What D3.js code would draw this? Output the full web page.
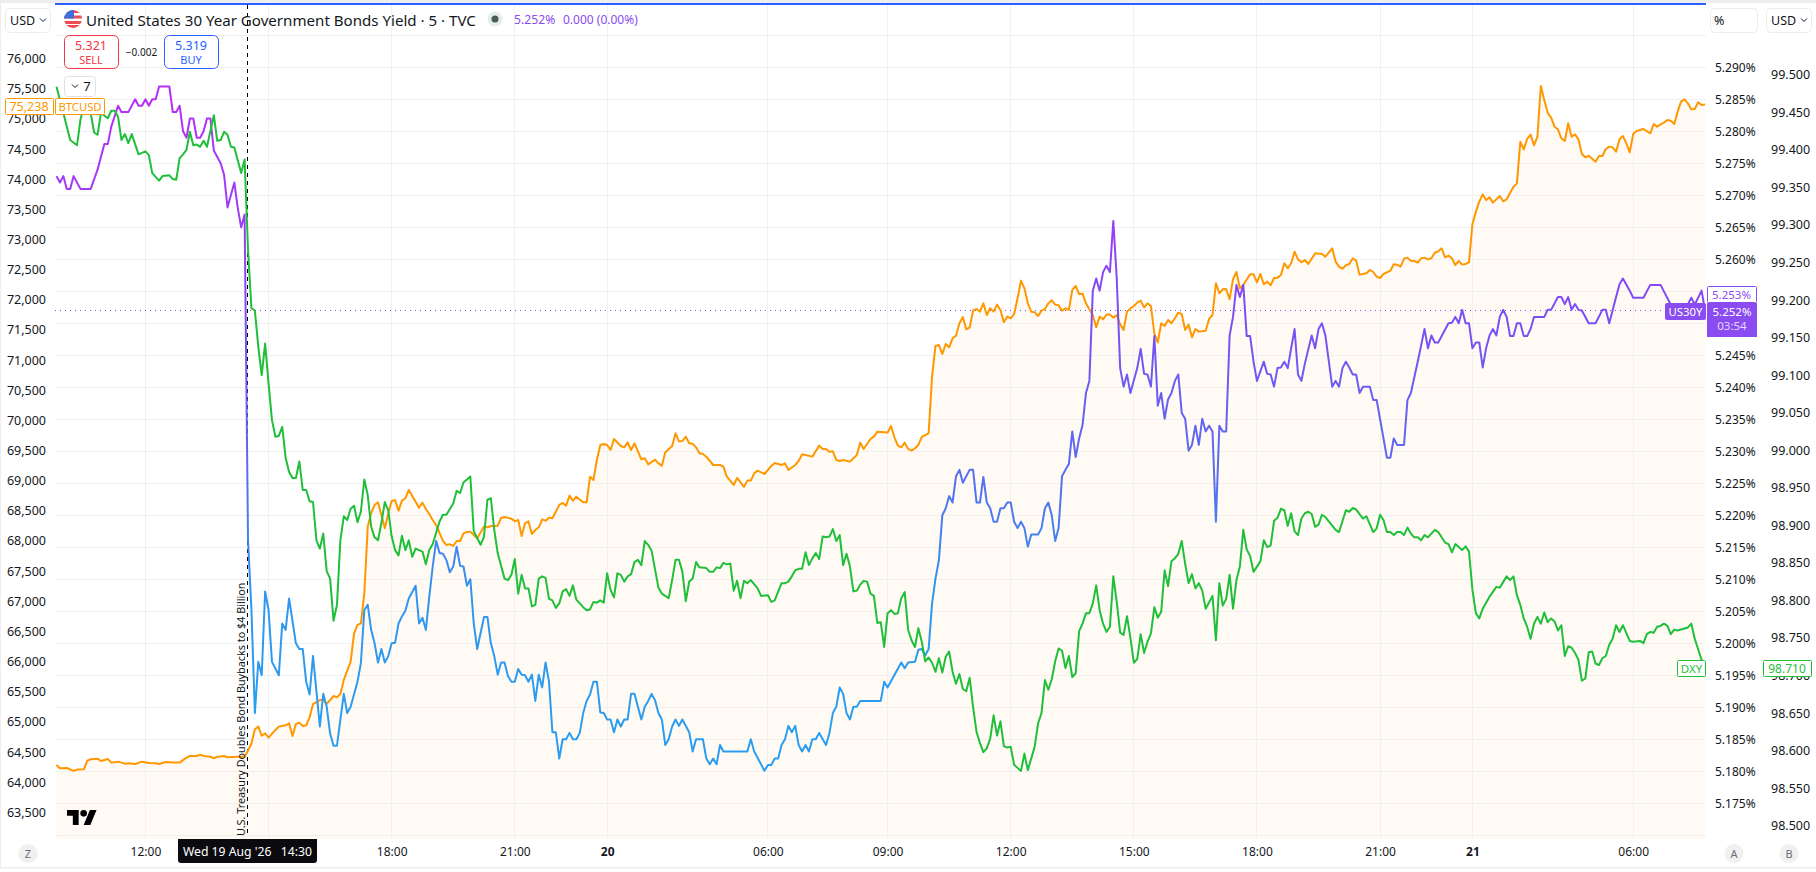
<!DOCTYPE html>
<html>
<head>
<meta charset="utf-8">
<title>US30Y</title>
<script src="https://cdn.jsdelivr.net/npm/d3@7"></script>
<style>
  html, body { margin: 0; padding: 0; background: #fff; overflow: hidden; }
  svg { display: block; }
  text { font-family: "Noto Sans", "Open Sans", sans-serif; fill: #131722; }
  .axis text { font-size: 12.5px; }
  .axis .domain, .axis line { display: none; }
</style>
</head>
<body>
<div id="chart"></div>
<script>
// [bar index, value], bars are 5 minute steps counted from the left edge
var btcPoints = [[0,64285],[1,64230],[3,64235],[5,64186],[6,64208],[8,64213],[9,64357],[10,64379],[12,64390],[13,64351],[15,64385],[16,64324],[18,64340],[20,64307],[21,64313],[23,64302],[25,64340],[27,64318],[29,64313],[30,64302],[32,64335],[34,64324],[36,64324],[38,64407],[39,64434],[41,64434],[42,64456],[43,64434],[45,64423],[46,64396],[47,64423],[49,64434],[50,64412],[53,64423],[55,64423],[56,64523],[57,64645],[58,64877],[59,64921],[60,64772],[61,64810],[62,64738],[64,64866],[65,64921],[67,64943],[68,64976],[69,64766],[70,64965],[71,64987],[72,64932],[73,64943],[74,65076],[75,65297],[76,65325],[77,65363],[78,65363],[79,65297],[81,65429],[82,65407],[83,65463],[84,65695],[86,65999],[87,66469],[88,66607],[89,66634],[90,67132],[91,68238],[92,68459],[93,68597],[94,68641],[95,68431],[96,68210],[97,68459],[98,68663],[99,68680],[100,68503],[101,68669],[102,68708],[103,68846],[106,68553],[107,68636],[108,68531],[109,68448],[110,68348],[111,68265],[113,68000],[114,67934],[115,67945],[116,67917],[117,68000],[118,68000],[119,68127],[120,68149],[121,68155],[123,68044],[125,68238],[126,68227],[127,68249],[129,68254],[130,68381],[131,68398],[133,68370],[134,68326],[135,68348],[136,68083],[137,68293],[138,68326],[139,68116],[140,68182],[141,68227],[142,68359],[143,68337],[144,68387],[145,68376],[147,68597],[148,68630],[149,68586],[150,68752],[151,68669],[152,68735],[154,68641],[155,68641],[156,69067],[157,69012],[158,69343],[159,69592],[160,69609],[161,69592],[162,69509],[163,69692],[165,69575],[166,69553],[167,69636],[168,69509],[169,69620],[171,69354],[172,69371],[173,69271],[175,69349],[176,69288],[177,69249],[178,69470],[180,69575],[181,69785],[182,69653],[183,69658],[184,69730],[185,69620],[186,69614],[187,69553],[188,69454],[189,69443],[190,69398],[192,69260],[194,69260],[195,69233],[196,69067],[198,68929],[199,69045],[201,68896],[202,69001],[203,69001],[204,69122],[205,69166],[207,69111],[209,69244],[210,69293],[212,69260],[213,69288],[214,69177],[216,69260],[217,69327],[218,69437],[221,69399],[223,69581],[224,69526],[225,69526],[226,69481],[227,69487],[228,69343],[229,69327],[230,69343],[232,69316],[234,69426],[235,69631],[236,69526],[238,69692],[239,69730],[240,69813],[243,69797],[244,69907],[245,69719],[246,69581],[247,69553],[248,69631],[249,69526],[250,69498],[251,69537],[252,69592],[253,69725],[255,69786],[256,70725],[257,71234],[258,71251],[259,71101],[260,71267],[261,71212],[262,71361],[263,71405],[264,71610],[265,71715],[266,71510],[267,71544],[268,71820],[269,71848],[270,71803],[271,71942],[272,71748],[273,71859],[274,71803],[275,71920],[276,71831],[277,71627],[278,71721],[279,71693],[280,71765],[281,72025],[282,72318],[283,72190],[284,71942],[285,71803],[286,71792],[287,71732],[288,71820],[289,71848],[290,71942],[291,71991],[292,71920],[293,71909],[294,71820],[295,71859],[296,71831],[297,72163],[298,72229],[299,72096],[300,72102],[301,71942],[302,71842],[303,71748],[304,71544],[305,71721],[306,71676],[307,71754],[308,71754],[309,71704],[310,71748],[311,71593],[312,71499],[313,71803],[314,71859],[315,71897],[316,71953],[317,71986],[318,71875],[319,71942],[320,71897],[321,71444],[322,71295],[323,71610],[324,71566],[325,71665],[326,71610],[327,71693],[328,71787],[329,71765],[330,71499],[331,71588],[332,71378],[333,71516],[334,71472],[336,71488],[337,71682],[338,71748],[339,72273],[340,72108],[341,72174],[342,72179],[343,72008],[344,72340],[345,72461],[346,72190],[347,72246],[349,72423],[350,72423],[351,72290],[352,72428],[353,72257],[354,72301],[355,72240],[356,72362],[357,72367],[358,72412],[359,72605],[360,72522],[361,72605],[362,72798],[363,72671],[364,72621],[365,72660],[366,72594],[368,72770],[370,72759],[371,72715],[373,72853],[374,72632],[375,72549],[376,72516],[377,72572],[378,72594],[379,72688],[380,72649],[381,72417],[383,72439],[384,72494],[385,72461],[386,72384],[387,72361],[388,72428],[390,72483],[391,72588],[392,72583],[393,72550],[394,72682],[395,72699],[396,72649],[397,72643],[398,72616],[399,72688],[400,72699],[401,72671],[402,72688],[403,72782],[404,72804],[405,72853],[406,72704],[407,72732],[408,72688],[409,72577],[410,72643],[411,72583],[412,72594],[413,72621],[414,73257],[415,73462],[416,73627],[417,73749],[418,73655],[419,73699],[420,73611],[422,73721],[423,73633],[424,73666],[426,73876],[427,73931],[428,74622],[429,74495],[430,74667],[431,74739],[432,74562],[433,74705],[434,75546],[435,75313],[436,75103],[437,75020],[438,74871],[439,74827],[440,74678],[441,74634],[442,74927],[443,74705],[444,74744],[445,74661],[446,74418],[447,74363],[448,74390],[450,74291],[451,74385],[452,74385],[453,74501],[454,74540],[455,74528],[456,74457],[457,74661],[458,74716],[459,74595],[460,74446],[461,74750],[462,74799],[464,74832],[466,74761],[467,74915],[468,74871],[469,74910],[470,74938],[471,74982],[472,74971],[473,74915],[474,75120],[475,75286],[476,75325],[477,75258],[478,75159],[479,75164],[480,75275],[481,75231],[482,75238]];

var yieldPoints = [[0,5.2730],[1,5.2720],[2,5.2730],[3,5.2710],[4,5.2710],[5,5.2730],[7,5.2710],[10,5.2710],[12,5.2740],[14,5.2780],[15,5.2780],[16,5.2807],[18,5.2840],[19,5.2830],[21,5.2830],[23,5.2850],[24,5.2840],[25,5.2840],[26,5.2850],[27,5.2840],[28,5.2850],[29,5.2850],[30,5.2870],[33,5.2870],[34,5.2830],[35,5.2830],[36,5.2840],[37,5.2800],[38,5.2790],[39,5.2820],[40,5.2820],[41,5.2790],[42,5.2790],[43,5.2800],[44,5.2820],[45,5.2820],[46,5.2770],[48,5.2750],[49,5.2732],[50,5.2681],[52,5.2720],[53,5.2680],[54,5.2650],[55,5.2670],[56,5.2161],[57,5.2052],[58,5.1891],[59,5.1971],[60,5.1950],[61,5.2081],[62,5.2052],[63,5.1971],[65,5.1950],[66,5.2031],[67,5.2021],[68,5.2070],[70,5.2000],[71,5.1991],[72,5.1991],[73,5.1940],[74,5.1920],[75,5.1980],[77,5.1870],[78,5.1921],[79,5.1901],[80,5.1859],[81,5.1840],[82,5.1840],[84,5.1921],[85,5.1891],[86,5.1901],[88,5.1940],[89,5.1969],[90,5.2052],[91,5.2060],[92,5.2021],[93,5.2000],[94,5.1970],[95,5.1991],[96,5.1970],[97,5.1980],[98,5.2000],[99,5.2001],[100,5.2031],[101,5.2042],[102,5.2051],[103,5.2070],[105,5.2090],[106,5.2031],[107,5.2040],[108,5.2021],[109,5.2073],[110,5.2120],[111,5.2160],[112,5.2141],[113,5.2140],[114,5.2130],[115,5.2111],[116,5.2120],[117,5.2151],[118,5.2121],[119,5.2120],[120,5.2090],[121,5.2100],[122,5.2031],[123,5.1991],[125,5.2041],[126,5.2041],[127,5.2000],[128,5.1980],[129,5.1951],[130,5.1970],[131,5.1970],[132,5.1949],[133,5.1940],[134,5.1940],[135,5.1960],[136,5.1951],[137,5.1950],[138,5.1940],[139,5.1951],[140,5.1910],[141,5.1951],[142,5.1931],[143,5.1970],[144,5.1940],[145,5.1861],[146,5.1861],[147,5.1820],[148,5.1850],[149,5.1850],[150,5.1860],[151,5.1850],[152,5.1850],[153,5.1860],[154,5.1891],[155,5.1910],[156,5.1920],[157,5.1940],[158,5.1940],[159,5.1892],[160,5.1891],[161,5.1881],[162,5.1881],[163,5.1861],[164,5.1881],[165,5.1870],[166,5.1881],[167,5.1881],[168,5.1921],[169,5.1921],[170,5.1901],[171,5.1881],[172,5.1901],[173,5.1910],[174,5.1921],[175,5.1911],[176,5.1891],[177,5.1881],[178,5.1841],[179,5.1850],[180,5.1870],[181,5.1881],[182,5.1871],[183,5.1881],[185,5.1861],[186,5.1831],[187,5.1850],[189,5.1850],[190,5.1820],[191,5.1811],[192,5.1820],[193,5.1811],[194,5.1841],[195,5.1831],[202,5.1831],[203,5.1850],[204,5.1831],[207,5.1801],[208,5.1810],[209,5.1810],[210,5.1820],[211,5.1820],[212,5.1841],[213,5.1850],[214,5.1871],[215,5.1861],[216,5.1871],[217,5.1841],[218,5.1831],[219,5.1841],[220,5.1831],[221,5.1850],[222,5.1850],[223,5.1860],[225,5.1841],[226,5.1860],[227,5.1891],[228,5.1901],[229,5.1931],[230,5.1921],[231,5.1891],[232,5.1881],[233,5.1901],[234,5.1901],[235,5.1910],[241,5.1910],[242,5.1940],[243,5.1931],[247,5.1970],[248,5.1961],[249,5.1970],[251,5.1971],[252,5.1990],[253,5.1991],[254,5.1981],[255,5.1991],[256,5.2062],[257,5.2101],[258,5.2130],[259,5.2200],[260,5.2211],[261,5.2230],[262,5.2220],[263,5.2261],[264,5.2271],[265,5.2251],[266,5.2261],[267,5.2271],[268,5.2271],[269,5.2220],[270,5.2220],[271,5.2260],[272,5.2220],[273,5.2211],[274,5.2190],[275,5.2190],[276,5.2211],[277,5.2211],[278,5.2220],[279,5.2220],[280,5.2190],[281,5.2180],[282,5.2190],[283,5.2180],[284,5.2151],[285,5.2170],[287,5.2170],[288,5.2180],[289,5.2211],[290,5.2220],[291,5.2200],[292,5.2160],[293,5.2180],[294,5.2261],[295,5.2271],[296,5.2280],[297,5.2331],[298,5.2291],[299,5.2320],[300,5.2341],[301,5.2391],[302,5.2410],[303,5.2551],[304,5.2570],[305,5.2551],[306,5.2580],[307,5.2590],[308,5.2580],[309,5.2660],[310,5.2570],[311,5.2430],[312,5.2401],[313,5.2420],[314,5.2391],[315,5.2411],[316,5.2430],[317,5.2460],[318,5.2421],[319,5.2420],[320,5.2401],[321,5.2480],[322,5.2371],[323,5.2391],[324,5.2351],[325,5.2381],[326,5.2391],[327,5.2410],[328,5.2420],[329,5.2360],[330,5.2351],[331,5.2301],[332,5.2310],[333,5.2340],[334,5.2310],[335,5.2351],[336,5.2331],[337,5.2340],[338,5.2331],[339,5.2190],[340,5.2340],[341,5.2331],[342,5.2331],[343,5.2481],[344,5.2510],[345,5.2560],[346,5.2541],[347,5.2560],[348,5.2480],[349,5.2480],[350,5.2440],[351,5.2410],[353,5.2440],[354,5.2421],[355,5.2420],[356,5.2401],[357,5.2430],[358,5.2431],[359,5.2440],[360,5.2430],[361,5.2461],[362,5.2491],[363,5.2420],[364,5.2410],[365,5.2437],[367,5.2481],[368,5.2461],[369,5.2491],[370,5.2500],[371,5.2481],[373,5.2401],[374,5.2410],[375,5.2401],[376,5.2430],[377,5.2440],[378,5.2431],[379,5.2420],[380,5.2420],[381,5.2391],[382,5.2401],[384,5.2401],[385,5.2380],[386,5.2380],[387,5.2350],[389,5.2290],[390,5.2290],[391,5.2320],[392,5.2310],[394,5.2310],[395,5.2380],[396,5.2391],[398,5.2440],[400,5.2491],[401,5.2461],[402,5.2481],[403,5.2470],[404,5.2470],[407,5.2500],[408,5.2501],[409,5.2510],[410,5.2500],[411,5.2521],[412,5.2500],[413,5.2500],[414,5.2461],[415,5.2470],[416,5.2470],[417,5.2431],[418,5.2461],[419,5.2481],[420,5.2491],[421,5.2481],[422,5.2510],[423,5.2521],[424,5.2510],[425,5.2480],[426,5.2480],[427,5.2500],[428,5.2500],[429,5.2480],[430,5.2480],[431,5.2491],[432,5.2510],[435,5.2510],[436,5.2521],[437,5.2521],[439,5.2541],[440,5.2541],[441,5.2530],[442,5.2541],[443,5.2521],[444,5.2530],[445,5.2521],[446,5.2520],[448,5.2500],[450,5.2500],[452,5.2521],[453,5.2521],[454,5.2500],[456,5.2541],[457,5.2561],[458,5.2570],[460,5.2551],[461,5.2540],[464,5.2540],[466,5.2560],[469,5.2560],[472,5.2529],[473,5.2521],[477,5.2530],[478,5.2540],[479,5.2529],[481,5.2551],[482,5.2520]];

var dxyPoints = [[0,99.484],[2,99.449],[4,99.413],[6,99.406],[7,99.440],[8,99.458],[10,99.449],[11,99.423],[12,99.420],[13,99.449],[15,99.442],[16,99.452],[17,99.452],[18,99.444],[19,99.413],[20,99.421],[21,99.409],[22,99.421],[24,99.394],[26,99.398],[27,99.393],[28,99.369],[30,99.359],[31,99.365],[33,99.366],[34,99.361],[35,99.360],[36,99.389],[37,99.394],[38,99.400],[39,99.424],[40,99.406],[41,99.407],[42,99.404],[43,99.412],[44,99.404],[46,99.446],[47,99.412],[48,99.413],[49,99.424],[50,99.420],[51,99.404],[52,99.403],[54,99.369],[55,99.387],[56,99.267],[57,99.189],[58,99.186],[59,99.138],[60,99.100],[61,99.142],[62,99.089],[63,99.040],[64,99.018],[65,99.019],[66,99.031],[67,98.990],[68,98.971],[69,98.963],[70,98.963],[71,98.985],[72,98.947],[73,98.947],[74,98.932],[75,98.931],[76,98.880],[77,98.869],[78,98.889],[79,98.839],[80,98.829],[81,98.773],[82,98.794],[83,98.880],[84,98.912],[85,98.907],[86,98.922],[87,98.926],[88,98.904],[89,98.918],[90,98.961],[91,98.940],[92,98.898],[93,98.884],[94,98.880],[95,98.903],[96,98.931],[97,98.920],[98,98.885],[99,98.867],[100,98.860],[101,98.886],[102,98.867],[103,98.880],[104,98.858],[105,98.869],[106,98.867],[107,98.865],[108,98.848],[109,98.867],[110,98.875],[112,98.905],[113,98.914],[114,98.914],[116,98.929],[117,98.946],[118,98.943],[119,98.957],[121,98.965],[122,98.892],[124,98.874],[125,98.885],[126,98.934],[127,98.936],[128,98.894],[129,98.863],[131,98.829],[132,98.827],[133,98.834],[134,98.855],[135,98.809],[136,98.834],[137,98.816],[138,98.816],[139,98.792],[140,98.794],[141,98.829],[142,98.832],[143,98.830],[144,98.802],[145,98.800],[146,98.790],[147,98.796],[148,98.812],[149,98.815],[150,98.806],[151,98.820],[152,98.801],[154,98.791],[155,98.787],[156,98.788],[157,98.798],[158,98.797],[159,98.800],[160,98.797],[161,98.836],[162,98.814],[163,98.804],[164,98.836],[165,98.834],[166,98.825],[167,98.832],[168,98.835],[169,98.851],[170,98.854],[171,98.847],[172,98.879],[173,98.874],[174,98.866],[176,98.817],[177,98.809],[178,98.806],[179,98.803],[180,98.827],[181,98.854],[182,98.854],[183,98.838],[184,98.799],[185,98.825],[186,98.829],[187,98.851],[188,98.844],[190,98.843],[191,98.838],[192,98.838],[193,98.844],[194,98.843],[195,98.850],[196,98.848],[197,98.849],[198,98.813],[199,98.826],[200,98.803],[201,98.826],[202,98.823],[203,98.827],[205,98.816],[206,98.806],[208,98.807],[209,98.798],[210,98.800],[212,98.823],[213,98.823],[214,98.825],[215,98.832],[216,98.840],[217,98.842],[218,98.842],[219,98.864],[220,98.847],[221,98.856],[222,98.863],[223,98.855],[224,98.885],[225,98.884],[226,98.885],[227,98.895],[228,98.879],[229,98.887],[230,98.847],[231,98.862],[232,98.845],[233,98.812],[234,98.813],[235,98.821],[236,98.826],[237,98.825],[238,98.809],[239,98.806],[240,98.770],[241,98.771],[242,98.738],[243,98.783],[244,98.787],[245,98.782],[246,98.783],[247,98.803],[248,98.811],[249,98.761],[250,98.747],[251,98.738],[252,98.763],[253,98.745],[254,98.719],[255,98.724],[256,98.717],[257,98.705],[258,98.723],[259,98.704],[260,98.725],[261,98.732],[262,98.705],[263,98.689],[264,98.702],[265,98.682],[266,98.679],[267,98.697],[268,98.658],[269,98.625],[270,98.610],[271,98.598],[272,98.603],[273,98.616],[274,98.647],[275,98.620],[276,98.639],[277,98.606],[278,98.604],[279,98.605],[280,98.581],[282,98.573],[283,98.596],[284,98.574],[286,98.605],[287,98.636],[288,98.650],[289,98.694],[290,98.681],[291,98.695],[292,98.719],[293,98.736],[294,98.733],[295,98.710],[296,98.726],[297,98.698],[298,98.703],[299,98.759],[300,98.769],[301,98.783],[302,98.783],[303,98.796],[304,98.820],[305,98.787],[306,98.769],[307,98.758],[308,98.765],[309,98.832],[310,98.798],[311,98.757],[312,98.754],[313,98.779],[314,98.750],[315,98.717],[316,98.722],[317,98.755],[318,98.730],[319,98.745],[320,98.756],[321,98.791],[322,98.777],[323,98.785],[324,98.840],[325,98.819],[326,98.852],[327,98.856],[328,98.862],[329,98.879],[330,98.849],[331,98.823],[332,98.835],[333,98.816],[334,98.823],[335,98.813],[336,98.789],[338,98.806],[339,98.747],[340,98.823],[341,98.793],[342,98.802],[343,98.834],[344,98.789],[345,98.827],[346,98.845],[347,98.894],[348,98.868],[349,98.859],[350,98.838],[352,98.852],[353,98.880],[354,98.871],[355,98.873],[356,98.906],[357,98.910],[358,98.922],[359,98.920],[360,98.899],[361,98.916],[362,98.892],[363,98.887],[364,98.909],[365,98.916],[366,98.918],[367,98.915],[368,98.898],[369,98.901],[370,98.914],[371,98.911],[374,98.894],[375,98.891],[377,98.920],[378,98.918],[379,98.923],[380,98.921],[382,98.909],[383,98.912],[385,98.891],[386,98.896],[387,98.914],[388,98.907],[389,98.891],[390,98.891],[391,98.887],[392,98.891],[393,98.891],[394,98.887],[395,98.897],[396,98.889],[397,98.884],[398,98.884],[399,98.880],[400,98.887],[401,98.884],[403,98.894],[404,98.891],[406,98.877],[407,98.875],[408,98.864],[409,98.875],[410,98.871],[411,98.867],[412,98.872],[413,98.865],[414,98.814],[415,98.783],[416,98.776],[417,98.789],[419,98.805],[421,98.818],[422,98.817],[424,98.832],[425,98.827],[426,98.832],[427,98.807],[428,98.794],[429,98.776],[430,98.765],[431,98.749],[432,98.769],[433,98.778],[434,98.769],[435,98.784],[436,98.771],[437,98.776],[438,98.772],[439,98.760],[440,98.767],[441,98.726],[442,98.739],[443,98.737],[444,98.730],[445,98.721],[446,98.693],[447,98.696],[448,98.731],[449,98.732],[450,98.716],[451,98.714],[452,98.723],[453,98.726],[454,98.741],[455,98.749],[456,98.767],[457,98.758],[458,98.767],[460,98.746],[461,98.745],[463,98.746],[464,98.743],[465,98.755],[466,98.758],[467,98.757],[468,98.765],[469,98.766],[470,98.769],[471,98.766],[472,98.755],[473,98.761],[474,98.760],[477,98.764],[478,98.769],[479,98.749],[481,98.721],[482,98.710]];

var btcTicks = [76000,75500,75000,74500,74000,73500,73000,72500,72000,71500,71000,70500,70000,69500,69000,68500,68000,67500,67000,66500,66000,65500,65000,64500,64000,63500];
// 5.255% and 5.250% sit behind the price tags in the reference, so no text for them
var yieldTicks = [5.290,5.285,5.280,5.275,5.270,5.265,5.260,5.245,5.240,5.235,5.230,5.225,5.220,5.215,5.210,5.205,5.200,5.195,5.190,5.185,5.180,5.175];
var gridLevels = [5.295,5.290,5.285,5.280,5.275,5.270,5.265,5.260,5.255,5.250,5.245,5.240,5.235,5.230,5.225,5.220,5.215,5.210,5.205,5.200,5.195,5.190,5.185,5.180,5.175,5.170];
var dxyTicks = [99.5,99.45,99.4,99.35,99.3,99.25,99.2,99.15,99.1,99.05,99,98.95,98.9,98.85,98.8,98.75,98.7,98.65,98.6,98.55,98.5];
var gridBars = [26,62,98,134,161,208,243,279,315,351,387,414,461];
var timeBars = [26,98,134,161,208,243,279,315,351,387,414,461];
var timeLabels = ['12:00','18:00','21:00','20','06:00','09:00','12:00','15:00','18:00','21:00','21','06:00'];
var dayLabels = ['20','21'];
var eventBar = 56;
var lastYield = 5.252, prevYield = 5.253, lastBtc = 75238, lastDxy = 98.710;

var width = 1816, height = 872;
var left = 55, right = 1706, top_ = 5, bottom = 839;

var svg = d3.select('#chart').append('svg').attr('width', width).attr('height', height);

var x = d3.scaleLinear().domain([0, 482]).range([56.5, 1705]);
var yBtc = d3.scaleLinear().domain([76000, 63500]).range([58.6, 812.3]);
var yYield = d3.scaleLinear().domain([5.29, 5.175]).range([67.3, 803.3]);
var yDxy = d3.scaleLinear().domain([99.5, 98.5]).range([74.7, 825.7]);

function crisp(v) {
  return Math.floor(v) + 0.5;
}

// frame
svg.append('rect').attr('width', width).attr('height', 3).attr('fill', '#eeeeee');
svg.append('rect').attr('y', 3).attr('width', 1).attr('height', 865).attr('fill', '#eeeeee');
svg.append('rect').attr('y', 867).attr('width', width).attr('height', 1.5).attr('fill', '#eeeeee');

var defs = svg.append('defs');
defs.append('clipPath').attr('id', 'plot').append('rect')
  .attr('x', left).attr('y', top_).attr('width', right - left).attr('height', bottom - top_);

// US30Y stroke runs from purple at the top to blue at the bottom
var grad = defs.append('linearGradient').attr('id', 'yieldStroke')
  .attr('gradientUnits', 'userSpaceOnUse')
  .attr('x1', 0).attr('x2', 0).attr('y1', 100).attr('y2', 720);
[[0, '#b52ff7'], [0.2, '#9a3ff6'], [0.34, '#7c4df6'], [0.62, '#5570f0'], [0.8, '#3096f0'], [1, '#2a9df0']].forEach(function (s) {
  grad.append('stop').attr('offset', s[0]).attr('stop-color', s[1]);
});

var plot = svg.append('g').attr('clip-path', 'url(#plot)');

// orange area under BTCUSD
plot.append('path').datum(btcPoints)
  .attr('fill', '#fffaf3')
  .attr('d', d3.area().x(function (d) { return x(d[0]); }).y0(bottom).y1(function (d) { return yBtc(d[1]); }));

// grid
plot.selectAll('.hgrid').data(gridLevels).enter().append('line')
  .attr('class', 'hgrid')
  .attr('x1', left).attr('x2', right)
  .attr('y1', function (d) { return crisp(yYield(d)); })
  .attr('y2', function (d) { return crisp(yYield(d)); })
  .attr('stroke', '#f0f0f0').attr('stroke-width', 1);
plot.selectAll('.vgrid').data(gridBars).enter().append('line')
  .attr('class', 'vgrid')
  .attr('x1', function (d) { return crisp(x(d)); })
  .attr('x2', function (d) { return crisp(x(d)); })
  .attr('y1', top_).attr('y2', bottom)
  .attr('stroke', '#f0f0f0').attr('stroke-width', 1);

// last price line
plot.append('line')
  .attr('x1', left).attr('x2', 1665)
  .attr('y1', crisp(yYield(lastYield))).attr('y2', crisp(yYield(lastYield)))
  .attr('stroke', '#7e4df0').attr('stroke-width', 1).attr('stroke-dasharray', '1 4');

// event line
plot.append('line')
  .attr('x1', 247.5).attr('x2', 247.5)
  .attr('y1', top_).attr('y2', 835)
  .attr('stroke', '#000').attr('stroke-width', 1).attr('stroke-dasharray', '4 4');

function seriesLine(yScale) {
  return d3.line().x(function (d) { return x(d[0]); }).y(function (d) { return yScale(d[1]); });
}
function drawSeries(points, yScale, color) {
  plot.append('path').datum(points)
    .attr('fill', 'none')
    .attr('stroke', color)
    .attr('stroke-width', 2)
    .attr('stroke-linejoin', 'round')
    .attr('d', seriesLine(yScale));
}
drawSeries(btcPoints, yBtc, '#ff9800');
drawSeries(yieldPoints, yYield, 'url(#yieldStroke)');
drawSeries(dxyPoints, yDxy, '#1fbf3a');

// vertical note next to the event line
svg.append('text')
  .attr('transform', 'translate(' + (x(eventBar) - 3.5) + ',836) rotate(-90)')
  .attr('font-size', 10.8).style('font-family', '"Liberation Sans Narrow", "Noto Sans", sans-serif')
  .text('U.S. Treasury Doubles Bond Buybacks to $4 Billion');

// TradingView mark
var logo = svg.append('g').attr('transform', 'translate(67,806.7) scale(0.833)').attr('fill', '#000');
logo.append('path').attr('d', 'M14 22H7V11H0V4h14v18zM28 22h-8l7.5-18h8L28 22z');
logo.append('circle').attr('cx', 20).attr('cy', 8).attr('r', 4);

// axes
svg.append('g').attr('class', 'axis').attr('transform', 'translate(46,0)')
  .call(d3.axisLeft(yBtc).tickValues(btcTicks).tickSize(0).tickPadding(0).tickFormat(d3.format(',')));
var yieldAxis = svg.append('g').attr('class', 'axis').attr('transform', 'translate(1715,0)')
  .call(d3.axisRight(yYield).tickValues(yieldTicks).tickSize(0).tickPadding(0).tickFormat(function (d) { return d3.format('.3f')(d) + '%'; }));
yieldAxis.selectAll('text').style('font-size', '12px');
svg.append('g').attr('class', 'axis').attr('transform', 'translate(1771,0)')
  .call(d3.axisRight(yDxy).tickValues(dxyTicks).tickSize(0).tickPadding(0).tickFormat(d3.format('.3f')));
var timeAxis = svg.append('g').attr('class', 'axis').attr('transform', 'translate(0,846)')
  .call(d3.axisBottom(x).tickValues(timeBars).tickSize(0).tickPadding(0).tickFormat(function (d, i) { return timeLabels[i]; }));
timeAxis.selectAll('text')
  .attr('dy', '0.85em')
  .style('font-size', '12px')
  .attr('font-weight', function (d, i) { return dayLabels.indexOf(timeLabels[i]) >= 0 ? 700 : 400; });

// crosshair-style date tag
svg.append('path').attr('d', 'M178 839H317V860a3 3 0 0 1-3 3H181a3 3 0 0 1-3-3Z').attr('fill', '#0b0b0f');
svg.append('text').attr('x', 247.5).attr('y', 856).attr('text-anchor', 'middle')
  .attr('font-size', 12.2).style('fill', '#fff').style('white-space', 'pre').text("Wed 19 Aug '26   14:30");

// top blue rule
svg.append('rect').attr('x', left).attr('y', 3).attr('width', right - left).attr('height', 2).attr('fill', '#2962ff');

function box(x0, y0, w, h, stroke, fill, r) {
  return svg.append('rect').attr('x', x0 + 0.5).attr('y', y0 + 0.5).attr('width', w).attr('height', h)
    .attr('rx', r).attr('fill', fill).attr('stroke', stroke).attr('stroke-width', 1);
}
function label(tx, ty, str, size, color, anchor, weight) {
  return svg.append('text').attr('x', tx).attr('y', ty).attr('font-size', size)
    .attr('text-anchor', anchor || 'start').attr('font-weight', weight || 400)
    .style('fill', color).text(str);
}
function chevron(cx, cy) {
  svg.append('path').attr('d', 'M' + (cx - 3) + ' ' + (cy - 1.5) + 'l3 3l3 -3')
    .attr('fill', 'none').attr('stroke', '#131722').attr('stroke-width', 1);
}

// scale buttons
box(5, 8, 45, 24, '#ececec', '#fff', 4);
label(10, 25, 'USD', 12.5, '#131722');
chevron(43, 20);
box(1710, 8, 47, 24, '#ececec', '#fff', 4);
label(1714, 25, '%', 12.5, '#131722');
box(1766, 8, 45, 24, '#ececec', '#fff', 4);
label(1771, 25, 'USD', 12.5, '#131722');
chevron(1804, 20);

// title row
var flag = defs.append('clipPath').attr('id', 'flag');
flag.append('circle').attr('cx', 73).attr('cy', 19).attr('r', 9);
var flagG = svg.append('g').attr('clip-path', 'url(#flag)');
flagG.append('rect').attr('x', 64).attr('y', 10).attr('width', 18).attr('height', 18).attr('fill', '#fff');
[10, 15.5, 21, 25].forEach(function (sy) {
  flagG.append('rect').attr('x', 64).attr('y', sy).attr('width', 18).attr('height', 3).attr('fill', '#ee4b55');
});
flagG.append('rect').attr('x', 64).attr('y', 10).attr('width', 10).attr('height', 8.5).attr('fill', '#3f6fd8');

label(86, 25.5, 'United States 30 Year Government Bonds Yield · 5 · TVC', 15.1, '#131722');
svg.append('circle').attr('cx', 495).attr('cy', 19).attr('r', 7.5).attr('fill', '#e4efe6');
svg.append('circle').attr('cx', 495).attr('cy', 19).attr('r', 3.5).attr('fill', '#4a5a55');
label(514, 24, '5.252%', 12.2, '#8a4cf0');
label(563, 24, '0.000 (0.00%)', 12, '#8a4cf0');

// sell and buy
box(64, 35, 54, 33, '#f23645', '#fff', 5);
label(91, 50, '5.321', 12.5, '#f23645', 'middle');
label(91, 63.5, 'SELL', 11, '#f23645', 'middle');
label(141.5, 56, '−0.002', 10, '#131722', 'middle');
box(164, 35, 54, 33, '#2962ff', '#fff', 5);
label(191, 50, '5.319', 12.5, '#2962ff', 'middle');
label(191, 63.5, 'BUY', 11, '#2962ff', 'middle');

// collapsed legend
box(64, 76, 31, 20, '#e0e0ea', '#fff', 3);
chevron(75, 86);
label(87, 91, '7', 13, '#131722', 'middle');

// series tags
box(5, 98, 48, 16, '#ff9800', '#fff', 1);
label(29, 110.5, d3.format(',')(lastBtc), 12.5, '#ff9800', 'middle');
box(55, 98, 49, 16, '#ff9800', '#fff', 1);
label(80, 110.5, 'BTCUSD', 11.3, '#ff9800', 'middle');

box(1707, 286, 49, 16, '#8a4cf0', '#fff', 1);
label(1731.5, 298.5, d3.format('.3f')(prevYield) + '%', 11.5, '#8a4cf0', 'middle');
svg.append('rect').attr('x', 1665).attr('y', 303).attr('width', 41).attr('height', 17).attr('rx', 2).attr('fill', '#8a4cf0');
label(1685.5, 316, 'US30Y', 11.3, '#fff', 'middle');
svg.append('rect').attr('x', 1707).attr('y', 303).attr('width', 50).attr('height', 34).attr('fill', '#8a4cf0');
label(1732, 315.5, d3.format('.3f')(lastYield) + '%', 11.5, '#fff', 'middle');
label(1732, 330, '03:54', 11.5, '#e6d8fb', 'middle');

box(1677, 660, 28, 16, '#1fbf3a', '#fff', 1);
label(1691.5, 672.5, 'DXY', 11.5, '#1fbf3a', 'middle');
box(1763, 660, 48, 16, '#1fbf3a', '#fff', 1);
label(1787, 672.5, d3.format('.3f')(lastDxy), 12, '#1fbf3a', 'middle');

// bottom round buttons
[[28, 'Z'], [1734, 'A'], [1789, 'B']].forEach(function (b) {
  svg.append('circle').attr('cx', b[0]).attr('cy', 853.5).attr('r', 9.5).attr('fill', '#f0f0f0');
  label(b[0], 857.5, b[1], 11, '#6a6d78', 'middle');
});
</script>
</body>
</html>
